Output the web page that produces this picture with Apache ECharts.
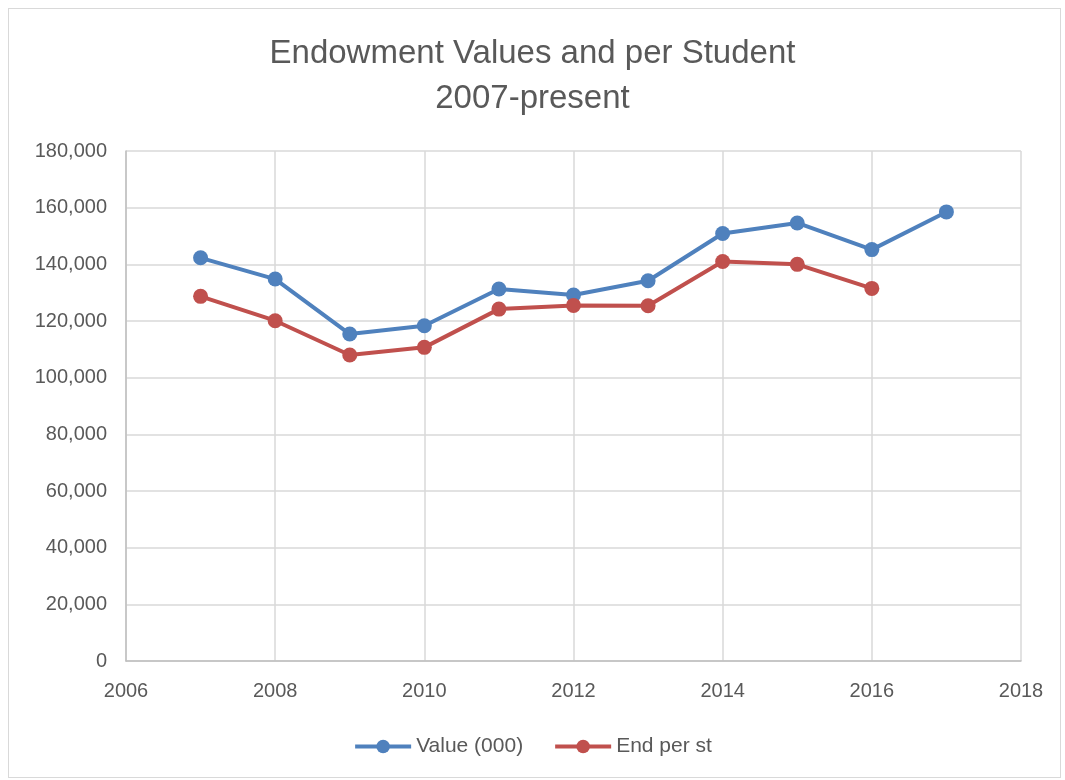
<!DOCTYPE html>
<html>
<head>
<meta charset="utf-8">
<script src="https://cdn.jsdelivr.net/npm/echarts@6/dist/echarts.min.js"></script>
<style>
html,body{margin:0;padding:0;background:#fff;}
#main{width:1065px;height:780px;}
#frame{position:absolute;left:8px;top:8px;width:1053px;height:770px;border:1px solid #d9d9d9;box-sizing:border-box;pointer-events:none;}
</style>
</head>
<body>
<div id="main"></div>
<div id="frame"></div>
<script>
const years = [2007, 2008, 2009, 2010, 2011, 2012, 2013, 2014, 2015, 2016, 2017];
const valueK = [142300, 134800, 115400, 118300, 131300, 129200, 134200, 150900, 154600, 145200, 158500];
const endPerSt = [128700, 120100, 108000, 110700, 124200, 125500, 125400, 141000, 140000, 131500];

const main = document.getElementById('main');
const myChart = echarts.init(main);

const font = '"Liberation Sans", "Open Sans", sans-serif';
const textColor = '#595959';

function pairs(ys){
    return ys.map((v,i)=>[years[i],v]);
}

myChart.setOption({
    animation:false,
    backgroundColor:'#fff',
    title:{
        text:'Endowment Values and per Student\n2007-present',
        left:'center',
        top:26,
        textStyle:{
            fontFamily:font,
            fontSize:33,
            fontWeight:'normal',
            color:textColor,
            lineHeight:45,
        }
    },
    legend:{
        bottom:18,
        left:'center',
        itemWidth:56,
        itemHeight:17,
        itemGap:30,
        lineStyle:{width:4},
        textStyle:{fontFamily:font,fontSize:21,color:textColor},
        data:['Value (000)','End per st']
    },
    grid:{
        left:126,
        right:44,
        top:151,
        bottom:119,
        containLabel:false
    },
    xAxis:{
        type:'value',
        min:2006,
        max:2018,
        interval:2,
        axisLine:{show:true,lineStyle:{color:'#bfbfbf',width:1.5}},
        axisTick:{show:false},
        axisLabel:{fontFamily:font,fontSize:20,color:textColor,margin:20,formatter:(v)=>String(v)},
        splitLine:{show:true,lineStyle:{color:'#d9d9d9',width:1.5}}
    },
    yAxis:{
        type:'value',
        min:0,
        max:180000,
        interval:20000,
        axisLine:{show:true,lineStyle:{color:'#bfbfbf',width:1.5}},
        axisTick:{show:false},
        axisLabel:{
            fontFamily:font,fontSize:20,color:textColor,margin:19,
            formatter:(v)=>v.toLocaleString('en-US')
        },
        splitLine:{show:true,lineStyle:{color:'#d9d9d9',width:1.5}}
    },
    series:[
        {
            name:'Value (000)',
            type:'line',
            data:pairs(valueK),
            symbol:'circle',
            symbolSize:15,
            lineStyle:{color:'#4f81bd',width:4},
            itemStyle:{color:'#4f81bd'}
        },
        {
            name:'End per st',
            type:'line',
            data:pairs(endPerSt),
            symbol:'circle',
            symbolSize:15,
            lineStyle:{color:'#c0504d',width:4},
            itemStyle:{color:'#c0504d'}
        }
    ]
});
</script>
</body>
</html>
